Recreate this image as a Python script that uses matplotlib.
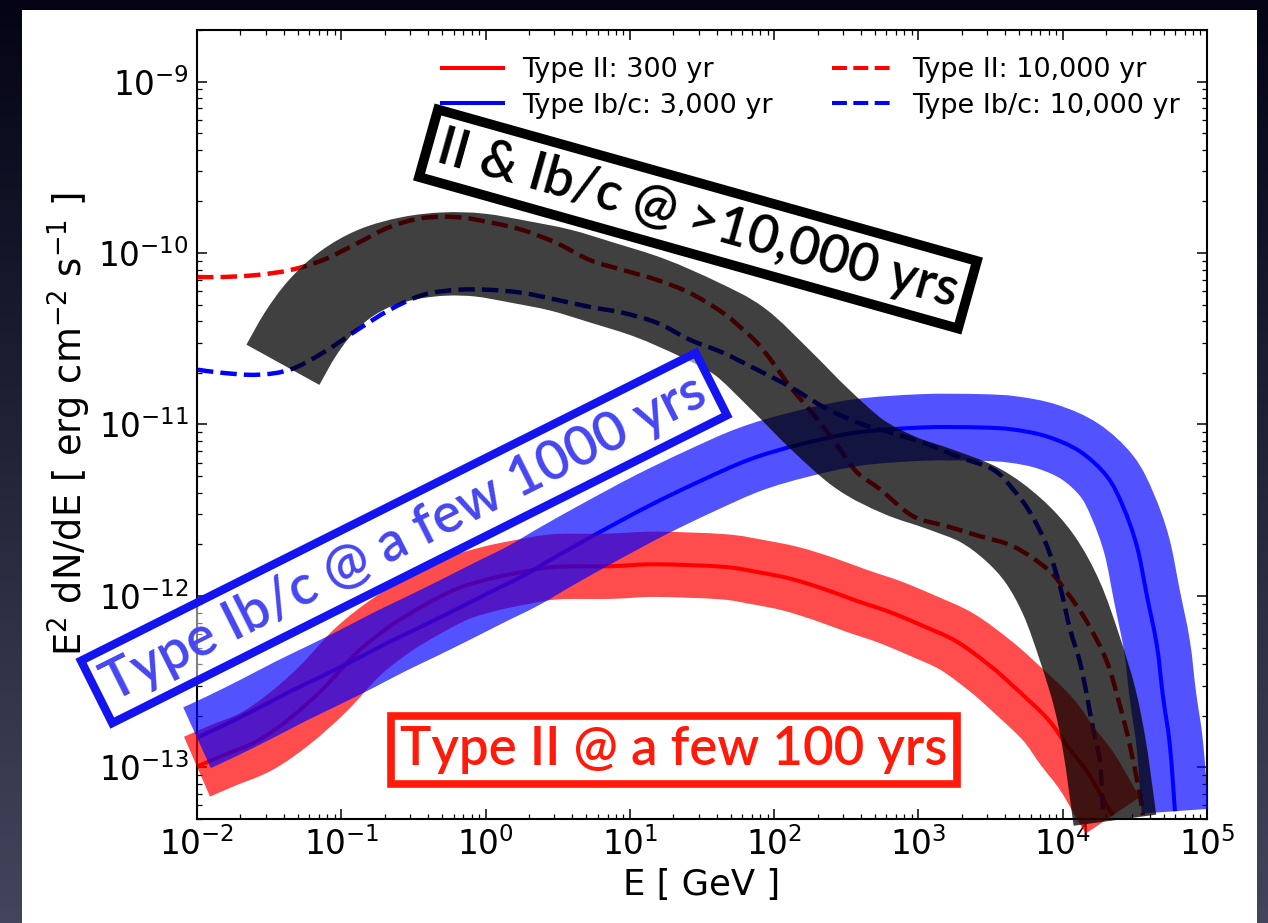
import numpy as np
import matplotlib
matplotlib.use("Agg")
import matplotlib.pyplot as plt
from matplotlib.patches import Rectangle, PathPatch
from matplotlib.path import Path
from matplotlib.lines import Line2D
from matplotlib.ticker import NullFormatter

# ---------------------------------------------------------------- data
# Type II, 300 yr (solid red)
E_II_300 = [0.010, 0.015, 0.026, 0.044, 0.075, 0.13, 0.22, 0.37, 0.63, 1.07,
            1.8, 3.1, 7.3, 15, 44, 76, 130, 220, 375, 630, 1070, 1850, 3130,
            4500, 7800, 10700, 14700, 20200, 22300]
F_II_300 = [1.01e-13, 1.17e-13, 1.42e-13, 1.93e-13, 2.88e-13, 4.72e-13,
            6.70e-13, 8.75e-13, 1.10e-12, 1.26e-12, 1.38e-12, 1.48e-12,
            1.49e-12, 1.53e-12, 1.48e-12, 1.38e-12, 1.26e-12, 1.10e-12,
            9.35e-13, 8.07e-13, 6.70e-13, 5.41e-13, 3.92e-13, 3.00e-13,
            1.93e-13, 1.34e-13, 9.48e-14, 6.01e-14, 5.26e-14]

# Type Ib/c, 3,000 yr (solid blue)
E_IBC_3000 = [0.010, 0.0151, 0.0261, 0.0442, 0.0746, 0.129, 0.217, 0.368,
              0.634, 1.07, 1.82, 3.13, 6.21, 13.8, 30.6, 67.9, 151, 375,
              1074, 2667, 4518, 7780, 13150, 20240, 26120, 32680, 38350,
              44980, 49450, 55320, 59950]
F_IBC_3000 = [1.49e-13, 1.75e-13, 2.20e-13, 2.77e-13, 3.43e-13, 4.31e-13,
              5.41e-13, 6.70e-13, 8.40e-13, 1.05e-12, 1.31e-12, 1.71e-12,
              2.36e-12, 3.38e-12, 4.67e-12, 6.26e-12, 7.65e-12, 8.98e-12,
              9.61e-12, 9.61e-12, 9.35e-12, 8.51e-12, 6.97e-12, 4.99e-12,
              3.34e-12, 1.95e-12, 1.00e-12, 5.12e-13, 2.62e-13, 1.34e-13,
              5.55e-14]

# Type II, 10,000 yr (dashed red)
E_II_10000 = [0.010, 0.0151, 0.0261, 0.0442, 0.0746, 0.129, 0.217, 0.368,
              0.634, 1.07, 1.82, 3.13, 5.29, 8.96, 15.4, 26.1, 44.2, 57.9,
              76.0, 98.2, 129, 169, 218, 286, 375, 541, 916, 1577, 2667,
              4518, 7780, 10690, 14720, 20240, 24910, 29240, 34270, 35970]
F_II_10000 = [7.25e-11, 7.25e-11, 7.45e-11, 7.96e-11, 9.10e-11, 1.14e-10,
              1.42e-10, 1.60e-10, 1.62e-10, 1.51e-10, 1.36e-10, 1.14e-10,
              9.10e-11, 7.96e-11, 6.97e-11, 5.85e-11, 4.48e-11, 3.71e-11,
              3.00e-11, 2.29e-11, 1.66e-11, 1.27e-11, 9.73e-12, 7.16e-12,
              5.26e-12, 4.19e-12, 2.92e-12, 2.55e-12, 2.23e-12, 1.95e-12,
              1.44e-12, 1.05e-12, 7.06e-13, 4.13e-13, 2.29e-13, 1.34e-13,
              6.87e-14, 5.26e-14]

# Type Ib/c, 10,000 yr (dashed blue)
E_IBC_10000 = [0.010, 0.0151, 0.0261, 0.0442, 0.0746, 0.129, 0.217, 0.368,
               0.634, 1.07, 1.82, 3.13, 5.29, 8.96, 15.4, 26.1, 44.2, 76.0,
               129, 218, 375, 634, 1074, 1849, 3283, 4518, 5929, 7780, 9570,
               11220, 13150, 14720, 16190, 18110, 19010]
F_IBC_10000 = [2.09e-11, 2.00e-11, 1.95e-11, 2.09e-11, 2.62e-11, 3.56e-11,
               4.67e-11, 5.70e-11, 6.10e-11, 6.10e-11, 5.85e-11, 5.33e-11,
               4.85e-11, 4.48e-11, 3.92e-11, 3.12e-11, 2.62e-11, 2.09e-11,
               1.66e-11, 1.27e-11, 1.03e-11, 8.98e-12, 7.86e-12, 6.52e-12,
               5.47e-12, 4.19e-12, 3.08e-12, 1.95e-12, 1.14e-12, 6.43e-13,
               4.13e-13, 2.62e-13, 1.69e-13, 1.08e-13, 5.55e-14]

# centre line of the shaded "old remnant" envelope
E_OLD_BAND = [0.0394, 0.0518, 0.0711, 0.106, 0.171, 0.299, 0.524, 0.914,
              1.73, 3.28, 6.21, 13.8, 30.6, 57.9, 110, 208, 393, 745, 1409,
              2667, 4518, 6950, 9860, 13150, 16710, 19600, 21930, 23010]
F_OLD_BAND = [2.23e-11, 3.34e-11, 4.79e-11, 6.52e-11, 8.18e-11, 9.35e-11,
              9.87e-11, 9.73e-11, 8.87e-11, 7.96e-11, 6.78e-11, 5.47e-11,
              4.08e-11, 3.04e-11, 1.83e-11, 1.07e-11, 6.70e-12, 5.05e-12,
              4.19e-12, 3.38e-12, 2.45e-12, 1.64e-12, 9.61e-13, 4.92e-13,
              2.52e-13, 1.29e-13, 6.61e-14, 4.92e-14]

LEGEND_LABELS = ["Type II: 300 yr", "Type Ib/c: 3,000 yr",
                 "Type II: 10,000 yr", "Type Ib/c: 10,000 yr"]

X_MAJOR = [1e-2, 1e-1, 1e0, 1e1, 1e2, 1e3, 1e4, 1e5]
Y_MAJOR = [1e-13, 1e-12, 1e-11, 1e-10, 1e-9]
X_LIM = (1e-2, 1e5)
Y_LIM = (5.0e-14, 2.0e-9)


def smooth_path(E, F):
    """Catmull-Rom curve through the points, built in log-log space."""
    pts = np.column_stack([np.log10(E), np.log10(F)])
    n = len(pts)
    verts = [pts[0]]
    codes = [Path.MOVETO]
    for i in range(n - 1):
        p0 = pts[i - 1] if i > 0 else pts[i]
        p1, p2 = pts[i], pts[i + 1]
        p3 = pts[i + 2] if i + 2 < n else pts[i + 1]
        verts += [p1 + (p2 - p0) / 6.0, p2 - (p3 - p1) / 6.0, p2]
        codes += [Path.CURVE4] * 3
    return Path(10.0 ** np.array(verts), codes)


def draw_curve(ax, E, F, **kw):
    patch = PathPatch(smooth_path(E, F), fill=False, transform=ax.transData,
                      capstyle="butt", joinstyle="round", **kw)
    ax.add_patch(patch)
    return patch


def minor_log_ticks(lo, hi):
    out = []
    for dec in range(int(np.floor(np.log10(lo))), int(np.ceil(np.log10(hi))) + 1):
        for k in range(2, 10):
            v = k * 10.0 ** dec
            if lo <= v <= hi:
                out.append(v)
    return out


# ---------------------------------------------------------------- figure
W, H, DPI = 1268, 923, 100
fig = plt.figure(figsize=(W / DPI, H / DPI), dpi=DPI)

# dark slide backdrop with a white card
grad = np.linspace(0, 1, H)[:, None, None]
top = np.array([4, 4, 22]) / 255.0
bot = np.array([68, 68, 92]) / 255.0
img = top * (1 - grad) + bot * grad
img = np.repeat(img, W, axis=1)
fig.figimage(img, xo=0, yo=0, origin="upper", zorder=-10)
fig.add_artist(Rectangle((22 / W, 0), (1257 - 22) / W, (H - 10) / H,
                         transform=fig.transFigure, facecolor="white",
                         edgecolor="none", zorder=-5))

ax = fig.add_axes([197 / W, 1 - 819 / H, (1207 - 197) / W, (819 - 30) / H])
ax.set_facecolor("white")
ax.set_xscale("log")
ax.set_yscale("log")
ax.set_xlim(*X_LIM)
ax.set_ylim(*Y_LIM)
ax.set_xticks(X_MAJOR)
ax.set_yticks(Y_MAJOR)
ax.set_xticks(minor_log_ticks(*X_LIM), minor=True)
ax.set_yticks(minor_log_ticks(*Y_LIM), minor=True)
ax.xaxis.set_minor_formatter(NullFormatter())
ax.yaxis.set_minor_formatter(NullFormatter())

RED, BLUE = "#ff0000", "#0000ff"
draw_curve(ax, E_II_300, F_II_300, edgecolor=RED, lw=2.9, zorder=2)
draw_curve(ax, E_IBC_3000, F_IBC_3000, edgecolor=BLUE, lw=2.9, zorder=2)
draw_curve(ax, E_II_10000, F_II_10000, edgecolor=RED, lw=3.2, ls="--", zorder=2)
draw_curve(ax, E_IBC_10000, F_IBC_10000, edgecolor=BLUE, lw=3.2, ls="--", zorder=2)

# broad translucent envelopes
draw_curve(ax, E_II_300, F_II_300, edgecolor=RED, alpha=0.70, lw=47,
           zorder=3, clip_on=False)
draw_curve(ax, E_IBC_3000, F_IBC_3000, edgecolor=BLUE, alpha=0.68, lw=48,
           zorder=4, clip_on=False)
draw_curve(ax, E_OLD_BAND, F_OLD_BAND, edgecolor="black", alpha=0.75, lw=60,
           zorder=5, clip_on=False)

ax.set_xlabel("E [ GeV ]", fontsize=25.5)
ax.set_ylabel(r"E$^2$ dN/dE [ erg cm$^{-2}$ s$^{-1}$ ]", fontsize=26.5)

ax.tick_params(which="both", direction="in", top=True, right=True,
               labelsize=23.5, pad=6)
ax.tick_params(which="major", length=7.5, width=1.1)
ax.tick_params(which="minor", length=3.8, width=0.9)
for s in ax.spines.values():
    s.set_linewidth(1.5)

handles = [Line2D([], [], color=RED, lw=2.9),
           Line2D([], [], color=BLUE, lw=2.9),
           Line2D([], [], color=RED, lw=2.9, ls="--"),
           Line2D([], [], color=BLUE, lw=2.9, ls="--")]
leg = ax.legend(handles, LEGEND_LABELS, loc="upper right", ncol=2,
                frameon=False, fontsize=19.5, handlelength=2.25,
                handletextpad=0.7, columnspacing=2.2, labelspacing=0.35,
                borderaxespad=0.6)
leg.set_zorder(7)

# slide call-outs
anno = dict(family="Lato", fontweight="semibold", ha="center", va="center")
fig.text(698 / W, 1 - 219 / H, "II & Ib/c @ >10,000 yrs", fontsize=38,
         color="black", rotation=-15.7, zorder=6,
         bbox=dict(boxstyle="square,pad=0.2", fc="white", ec="black", lw=7),
         **anno)
fig.text(404 / W, 1 - 538 / H, "Type Ib/c @ a few 1000 yrs", fontsize=39.5,
         color="#4646f2", rotation=26.6, zorder=4.5,
         bbox=dict(boxstyle="square,pad=0.18", fc=(1, 1, 1, 0.5),
                   ec="#1414f0", lw=6), **anno)
fig.text(674 / W, 1 - 750 / H, "Type II @ a few 100 yrs", fontsize=38,
         color="#ff1a0a", rotation=0, zorder=6,
         bbox=dict(boxstyle="square,pad=0.18", fc="white", ec="#ff1a0a",
                   lw=5.5), **anno)

fig.savefig("out.png", dpi=DPI)
